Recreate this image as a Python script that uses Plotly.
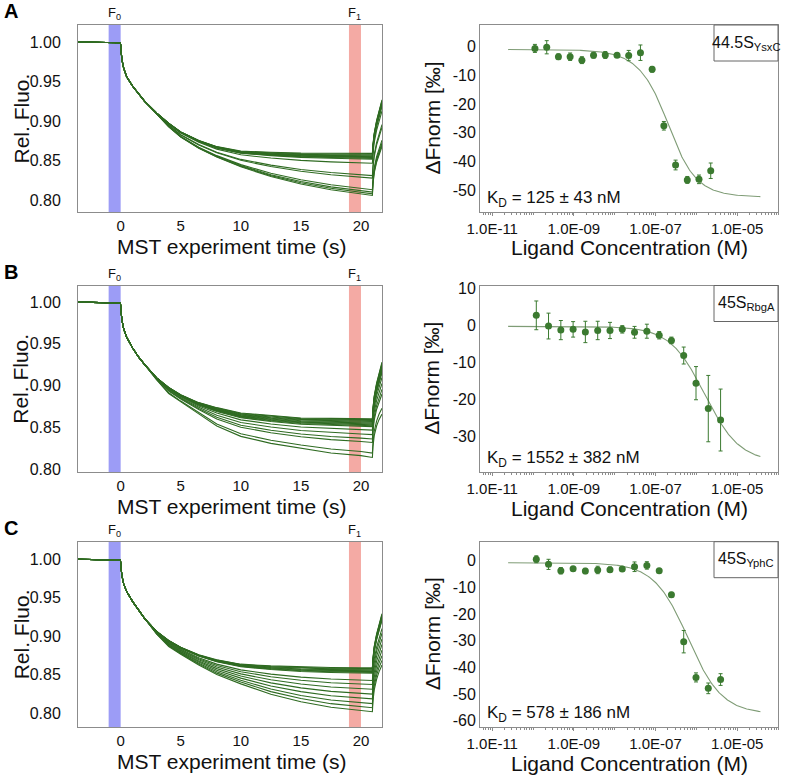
import numpy as np
import plotly.graph_objects as go

W, H = 787, 776
FONT = "Liberation Sans, Arial, sans-serif"
TRACE_GREEN = "#2f6b22"
POINT_GREEN = "#3b7a30"
FIT_COLOR = "#7f9c76"
FRAME = "#8c8c8c"
BLUE_BAND = "#9c9cf6"
RED_BAND = "#f4aaa4"

# ---------------- data ----------------
# time grid (s) at which the MST traces were read
time_s = [-3.55, -2.0, -1.0, -0.02, 0.03, 0.1, 0.25, 0.5, 1.0, 1.5, 2.0, 3.0, 4.0,
          5.0, 6.5, 8.0, 10.0, 12.5, 15.0, 17.5, 20.0, 20.95, 21.0, 21.1, 21.3, 21.5, 21.75]

# Panel A (44.5S YsxC)
a_unbound = [1.000, 0.9995, 0.9993, 0.999, 0.990, 0.978, 0.967, 0.956, 0.944, 0.934, 0.925, 0.910, 0.897,
             0.886, 0.875, 0.867, 0.861, 0.859, 0.8575, 0.857, 0.8565, 0.8565, 0.868, 0.882, 0.898, 0.911, 0.924]
a_bound = [1.000, 0.9995, 0.9993, 0.999, 0.990, 0.978, 0.967, 0.956, 0.944, 0.934, 0.925, 0.909, 0.893,
           0.880, 0.866, 0.855, 0.843, 0.831, 0.822, 0.815, 0.810, 0.808, 0.822, 0.836, 0.850, 0.860, 0.870]
a_levels = [0.859, 0.858, 0.857, 0.856, 0.855, 0.855, 0.854, 0.853, 0.852, 0.847, 0.832, 0.829,
            0.815, 0.812, 0.810, 0.808]
a_conc = [1.11e-10, 2.16e-10, 4.18e-10, 8.09e-10, 1.57e-9, 3.03e-9, 5.87e-9, 1.14e-8,
          2.20e-8, 4.27e-8, 8.26e-8, 1.60e-7, 3.10e-7, 6.00e-7, 1.16e-6, 2.25e-6]
a_fnorm = [-0.6, -0.2, -3.5, -3.5, -4.7, -3.0, -2.9, -3.0, -3.1, -2.1, -7.9, -27.6, -41.3, -46.5, -46.3, -43.3]
a_err = [1.4, 2.3, 1.0, 1.3, 1.2, 1.0, 1.2, 0.7, 1.8, 2.7, 1.0, 1.5, 1.7, 1.2, 1.5, 2.7]
a_fit = (-1.0, -52.5, 1.25e-7, 1.5e-7)   # unbound, bound, KD (M), target conc (M)

# Panel B (45S RbgA)
b_unbound = [1.000, 0.9995, 0.9993, 0.999, 0.990, 0.979, 0.968, 0.958, 0.945, 0.934, 0.925, 0.909, 0.897,
             0.888, 0.878, 0.871, 0.864, 0.860, 0.857, 0.856, 0.855, 0.855, 0.868, 0.882, 0.897, 0.909, 0.921]
b_bound = [1.000, 0.9995, 0.9993, 0.999, 0.990, 0.979, 0.968, 0.958, 0.945, 0.934, 0.925, 0.907, 0.891,
           0.881, 0.867, 0.853, 0.841, 0.833, 0.827, 0.822, 0.819, 0.817, 0.830, 0.843, 0.855, 0.863, 0.870]
b_levels = [0.860, 0.859, 0.858, 0.857, 0.856, 0.855, 0.854, 0.853, 0.852, 0.851, 0.847, 0.842,
            0.837, 0.833, 0.821, 0.816]
b_conc = [1.20e-10, 2.39e-10, 4.79e-10, 9.57e-10, 1.91e-9, 3.83e-9, 7.66e-9, 1.53e-8,
          3.06e-8, 6.13e-8, 1.23e-7, 2.45e-7, 4.90e-7, 9.80e-7, 1.96e-6, 3.92e-6]
b_fnorm = [2.8, -0.1, -1.2, -1.0, -1.7, -1.3, -1.3, -1.0, -1.8, -1.5, -2.6, -4.0, -8.1, -15.6, -22.5, -25.6]
b_err = [3.9, 3.5, 2.6, 2.1, 2.9, 2.5, 2.2, 1.0, 1.6, 1.9, 1.0, 0.9, 2.3, 4.5, 9.0, 8.4]
b_fit = (-0.2, -37.0, 1.552e-6, 1.0e-7)

# Panel C (45S YphC)
c_unbound = [1.000, 0.9995, 0.9993, 0.999, 0.990, 0.979, 0.968, 0.958, 0.945, 0.934, 0.923, 0.906, 0.894,
             0.885, 0.875, 0.868, 0.862, 0.859, 0.857, 0.856, 0.8554, 0.8554, 0.868, 0.883, 0.899, 0.912, 0.925]
c_bound = [1.000, 0.9995, 0.9993, 0.999, 0.990, 0.979, 0.968, 0.958, 0.945, 0.934, 0.923, 0.903, 0.887,
           0.877, 0.863, 0.851, 0.839, 0.826, 0.8165, 0.8095, 0.806, 0.804, 0.818, 0.832, 0.846, 0.856, 0.865]
c_levels = [0.859, 0.858, 0.857, 0.856, 0.855, 0.854, 0.853, 0.852, 0.843, 0.838, 0.832, 0.826,
            0.820, 0.814, 0.809, 0.804]
c_conc = b_conc
c_fnorm = [0.5, -1.4, -3.8, -3.0, -3.9, -3.5, -3.4, -3.1, -2.3, -1.8, -3.8, -12.8, -30.4, -43.8, -47.9, -44.6]
c_err = [1.3, 1.9, 1.2, 0.4, 1.0, 1.4, 1.0, 0.4, 1.8, 1.4, 0.3, 0.9, 4.2, 1.7, 2.0, 2.2]
c_fit = (-0.8, -57.5, 5.78e-7, 1.0e-7)

time_ticks = [0, 5, 10, 15, 20]
fluo_ticks = [0.80, 0.85, 0.90, 0.95, 1.00]
conc_ticks = [1e-11, 1e-9, 1e-7, 1e-5]
conc_ticktext = ["1.0E-11", "1.0E-09", "1.0E-07", "1.0E-05"]

# ---------------- layout configuration ----------------
rows = [
    dict(letter="A", top=25, bot=212, unb=a_unbound, bnd=a_bound, lev=a_levels, lyr=[0.785, 1.0215],
         conc=a_conc, fn=a_fnorm, err=a_err, fit=a_fit, ryr=[-57.7, 7.57],
         rticks=[-50, -40, -30, -20, -10, 0], label="44.5S<sub>YsxC</sub>",
         kd="K<sub>D</sub> = 125 ± 43 nM"),
    dict(letter="B", top=285.5, bot=472, unb=b_unbound, bnd=b_bound, lev=b_levels, lyr=[0.7964, 1.0199],
         conc=b_conc, fn=b_fnorm, err=b_err, fit=b_fit, ryr=[-39.7, 10.9],
         rticks=[-30, -20, -10, 0, 10], label="45S<sub>RbgA</sub>",
         kd="K<sub>D</sub> = 1552 ± 382 nM"),
    dict(letter="C", top=541.7, bot=727, unb=c_unbound, bnd=c_bound, lev=c_levels, lyr=[0.782, 1.0229],
         conc=c_conc, fn=c_fnorm, err=c_err, fit=c_fit, ryr=[-62.4, 7.1],
         rticks=[-60, -50, -40, -30, -20, -10, 0], label="45S<sub>YphC</sub>",
         kd="K<sub>D</sub> = 578 ± 186 nM"),
]

LX = [78 / W, 382 / W]
RX = [480 / W, 778 / W]


def py(ypx):
    return 1 - ypx / H


def px(xpx):
    return xpx / W


fig = go.Figure()
layout = {}
annotations = []
shapes = []

i20 = time_s.index(20.0)
for i, r in enumerate(rows):
    li, ri = 2 * i + 1, 2 * i + 2
    lx = "x" if li == 1 else f"x{li}"
    ly = "y" if li == 1 else f"y{li}"
    rx, ry = f"x{ri}", f"y{ri}"
    dom = [py(r["bot"]), py(r["top"])]

    # ---- left: MST traces ----
    unb = np.array(r["unb"])
    bnd = np.array(r["bnd"])
    for lv in r["lev"]:
        frac = (unb[i20] - lv) / (unb[i20] - bnd[i20])
        yv = unb + (bnd - unb) * frac
        fig.add_trace(go.Scatter(x=time_s, y=yv, mode="lines",
                                 line=dict(color=TRACE_GREEN, width=1.1),
                                 xaxis=lx, yaxis=ly, showlegend=False, hoverinfo="skip"))
    layout["xaxis" if li == 1 else f"xaxis{li}"] = dict(
        domain=LX, anchor=ly, range=[-3.55, 21.75], tickvals=time_ticks,
        ticktext=[str(t) for t in time_ticks], showline=True, mirror=True, linecolor=FRAME,
        linewidth=1, showgrid=False, zeroline=False, ticks="", automargin=False,
        tickfont=dict(size=15, family=FONT, color="#111"))
    layout["yaxis" if li == 1 else f"yaxis{li}"] = dict(
        domain=dom, anchor=lx, range=r["lyr"], tickvals=fluo_ticks,
        ticktext=[f"{v:.2f}" for v in fluo_ticks], showline=True, mirror=True, linecolor=FRAME,
        linewidth=1, showgrid=False, zeroline=False, ticks="", ticklabelstandoff=13,
        automargin=False, tickfont=dict(size=16, family=FONT, color="#111"))
    yref_dom = f"{ly} domain"
    shapes.append(dict(type="rect", xref=lx, yref=yref_dom, x0=-1, x1=0, y0=0, y1=1,
                       fillcolor=BLUE_BAND, line=dict(width=0), layer="below"))
    shapes.append(dict(type="rect", xref=lx, yref=yref_dom, x0=19, x1=20, y0=0, y1=1,
                       fillcolor=RED_BAND, line=dict(width=0), layer="below"))
    for xc, t in [(-0.5, "F<sub>0</sub>"), (19.5, "F<sub>1</sub>")]:
        annotations.append(dict(xref=lx, yref="paper", x=xc, y=py(r["top"] - 1), text=t,
                                showarrow=False, xanchor="center", yanchor="bottom",
                                font=dict(size=13, family=FONT, color="#111")))
    annotations.append(dict(xref="paper", yref="paper", x=px(21), y=py((r["top"] + r["bot"]) / 2),
                            text="Rel. Fluo.", textangle=-90, showarrow=False,
                            xanchor="center", yanchor="middle",
                            font=dict(size=21, family=FONT, color="#111")))
    annotations.append(dict(xref="paper", yref="paper", x=px(232), y=py(r["bot"] + 34),
                            text="MST experiment time (s)", showarrow=False,
                            xanchor="center", yanchor="middle",
                            font=dict(size=21, family=FONT, color="#111")))
    annotations.append(dict(xref="paper", yref="paper", x=px(2), y=py(r["top"] - 14),
                            text=f"<b>{r['letter']}</b>", showarrow=False,
                            xanchor="left", yanchor="middle",
                            font=dict(size=20, family=FONT, color="#000")))

    # ---- right: dose response ----
    U, B, KD, T = r["fit"]
    cfit = np.logspace(np.log10(2.45e-11), np.log10(3.7e-5), 300)
    s = cfit + T + KD
    fb = (s - np.sqrt(s * s - 4 * cfit * T)) / (2 * T)
    ffit = U + (B - U) * fb
    fig.add_trace(go.Scatter(x=cfit, y=ffit, mode="lines", line=dict(color=FIT_COLOR, width=1.1),
                             xaxis=rx, yaxis=ry, showlegend=False, hoverinfo="skip"))
    fig.add_trace(go.Scatter(x=r["conc"], y=r["fn"], mode="markers",
                             marker=dict(size=7, color=POINT_GREEN),
                             error_y=dict(type="data", array=r["err"], color=POINT_GREEN,
                                          thickness=1, width=2),
                             xaxis=rx, yaxis=ry, showlegend=False, hoverinfo="skip"))
    layout[f"xaxis{ri}"] = dict(
        domain=RX, anchor=ry, type="log", range=[-11.3, -4.0], tickvals=conc_ticks,
        ticktext=conc_ticktext, showline=True, mirror=True, linecolor=FRAME, linewidth=1,
        showgrid=False, zeroline=False, ticks="outside", ticklen=3, tickcolor=FRAME,
        minor=dict(ticks="outside", ticklen=2, tickcolor=FRAME, dtick="D1", showgrid=False),
        automargin=False, tickfont=dict(size=15, family=FONT, color="#111"))
    layout[f"yaxis{ri}"] = dict(
        domain=dom, anchor=rx, range=r["ryr"], tickvals=r["rticks"],
        ticktext=[str(v) for v in r["rticks"]], showline=True, mirror=True, linecolor=FRAME,
        linewidth=1, showgrid=False, zeroline=False, ticks="", automargin=False,
        tickfont=dict(size=16, family=FONT, color="#111"))
    annotations.append(dict(xref="paper", yref="paper", x=px(432), y=py((r["top"] + r["bot"]) / 2),
                            text="ΔFnorm [‰]", textangle=-90, showarrow=False,
                            xanchor="center", yanchor="middle",
                            font=dict(size=21, family=FONT, color="#111")))
    annotations.append(dict(xref="paper", yref="paper", x=px(629), y=py(r["bot"] + 36),
                            text="Ligand Concentration (M)", showarrow=False,
                            xanchor="center", yanchor="middle",
                            font=dict(size=21, family=FONT, color="#111")))
    annotations.append(dict(xref="paper", yref="paper", x=px(485), y=py(r["bot"] - 13),
                            text=r["kd"], showarrow=False, xanchor="left", yanchor="middle",
                            font=dict(size=17, family=FONT, color="#111")))
    shapes.append(dict(type="rect", xref="paper", yref="paper", x0=px(714), x1=RX[1],
                       y0=py(r["top"] + 36), y1=py(r["top"]), fillcolor="white",
                       line=dict(color="#666", width=1), layer="above"))
    annotations.append(dict(xref="paper", yref="paper", x=px(746), y=py(r["top"] + 18),
                            text=r["label"], showarrow=False, xanchor="center", yanchor="middle",
                            font=dict(size=16, family=FONT, color="#111")))

fig.update_layout(
    width=W, height=H, margin=dict(l=0, r=0, t=0, b=0, autoexpand=False),
    paper_bgcolor="white", plot_bgcolor="white",
    annotations=annotations, shapes=shapes, **layout)

fig.write_html("out.html")
